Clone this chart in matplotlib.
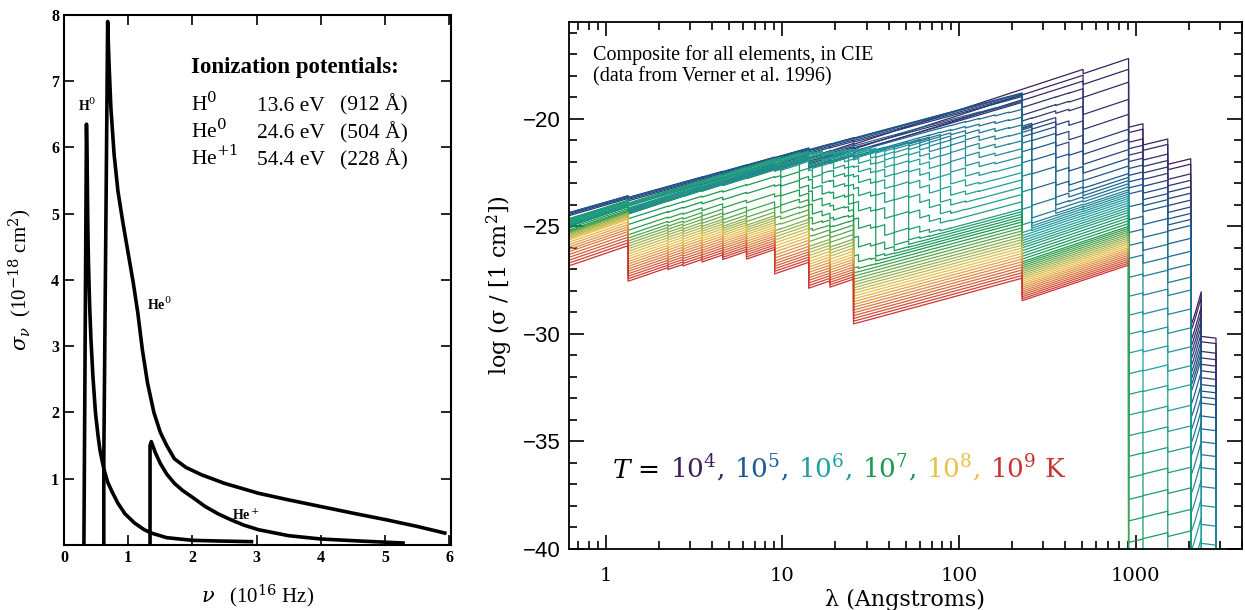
import numpy as np
import matplotlib
matplotlib.use("Agg")
import matplotlib.pyplot as plt
from matplotlib.colors import LinearSegmentedColormap

plt.rcParams["mathtext.fontset"] = "dejavuserif"

# ---------------- left panel: sigma_nu (1e-18 cm^2) vs nu (1e16 Hz)
h0_nu = [0.31, 0.35, 0.36, 0.37, 0.38, 0.40, 0.42, 0.45, 0.49, 0.53, 0.56, 0.62, 0.68, 0.75,
         0.84, 0.95, 1.1, 1.25, 1.36, 1.6, 2.0, 2.4, 2.92]
h0_sigma = [0.0, 6.35, 5.8, 4.9, 4.3, 3.6, 3.1, 2.55, 2.0, 1.65, 1.43, 1.15, 0.95, 0.8,
            0.63, 0.47, 0.33, 0.23, 0.18, 0.11, 0.07, 0.06, 0.05]
he0_nu = [0.62, 0.62, 0.68, 0.70, 0.73, 0.78, 0.84, 0.92, 1.0, 1.08, 1.15, 1.22, 1.3, 1.4,
          1.5, 1.6, 1.72, 1.9, 2.14, 2.5, 3.03, 3.5, 4.0, 4.5, 5.02, 5.5, 5.93]
he0_sigma = [0.0, 1.3, 7.9, 7.3, 6.6, 5.9, 5.34, 4.85, 4.4, 3.95, 3.5, 2.95, 2.45, 2.0,
             1.7, 1.5, 1.3, 1.17, 1.06, 0.93, 0.78, 0.68, 0.58, 0.48, 0.38, 0.28, 0.18]
hep_nu = [1.34, 1.34, 1.36, 1.42, 1.5, 1.6, 1.72, 1.85, 2.0, 2.2, 2.4, 2.6, 2.8, 3.03, 3.5,
          4.0, 4.6, 5.28]
hep_sigma = [0.0, 1.5, 1.56, 1.4, 1.23, 1.07, 0.93, 0.82, 0.72, 0.58, 0.47, 0.38, 0.3, 0.23,
             0.14, 0.09, 0.06, 0.03]

ion_rows = [("H$^0$", "13.6 eV", "(912 Å)"),
            ("He$^0$", "24.6 eV", "(504 Å)"),
            ("He$^{+1}$", "54.4 eV", "(228 Å)")]

# ---------------- right panel: composite log cross-section, CIE
log_T = np.round(np.arange(4.0, 9.01, 0.1), 1)
T_nodes = [4.0, 4.1, 4.2, 4.3, 4.5, 4.75, 5.0, 5.5, 6.0, 6.5, 7.0, 7.5, 8.0, 8.5, 9.0]

# hydrogen / helium edges: (edge A, log sigma at edge, slope)
h0_edge, h0_logsig, h0_slope = 912.0, -17.2, 2.75
he0_edge, he0_logsig, he0_slope = 504.0, -18.13, 2.6
hep_edge, hep_logsig, hep_slope = 228.0, -18.8, 2.2
frac_h0 = [0, -0.5, -1.1, -1.9, -3.3, -4.5, -5.4, -6.1, -6.6, -7.15, -7.8, -8.25, -8.7, -9.15, -9.6]
frac_he0 = [0, -0.05, -0.2, -0.5, -1.3, -3.0, -5.0, -7.0, -8.0, -9.0, -10.0, -10.5, -11.0, -11.5, -12.0]
frac_hep = [-4.0, -2.5, -1.5, -0.8, -0.2, 0.0, -0.05, -1.85, -3.7, -5.4, -6.0, -6.7, -7.35, -8.0, -8.65]

# metal K shells (H-like edge positions), Fe Ca Ar S Si Mg Ne O N C
k_edge = [1.34, 2.25, 2.74, 3.51, 4.6, 6.27, 9.05, 14.1, 18.6, 25.3]
k_logsig = [-24.35, -25.45, -25.15, -24.4, -23.95, -23.8, -23.1, -22.1, -22.85, -22.2]
k_slope = 2.8
k_T_nodes = [4.0, 6.0, 6.5, 7.0, 7.5, 8.0, 8.5, 9.0]
k_frac = [[0, 0, 0, 0, -0.05, -0.35, -0.9, -1.56],
          [0, 0, 0, -0.05, -0.4, -1.0, -1.6, -2.21],
          [0, 0, 0, -0.1, -0.6, -1.25, -1.85, -2.44],
          [0, 0, 0, -0.2, -0.9, -1.55, -2.15, -2.76],
          [0, 0, 0, -0.3, -1.0, -1.6, -2.2, -2.79],
          [0, 0, -0.05, -0.5, -1.1, -1.6, -2.1, -2.62],
          [0, 0, -0.2, -0.8, -1.5, -2.0, -2.5, -3.01],
          [0, -0.05, -0.4, -1.5, -2.6, -3.3, -4.0, -4.6],
          [0, -0.1, -0.6, -1.9, -3.0, -3.7, -4.35, -5.0],
          [0, -0.2, -1.0, -2.3, -3.4, -4.1, -4.7, -5.26]]

# intermediate ions (L shells / valence): edge, log sigma, peak log T
ion_edge = [9.8, 12.5, 14.8, 16.8, 19.5, 22.5, 23.7, 27.0, 31.6, 33.8, 38.0, 43.0, 51.9, 60.0,
            68.0, 78.5, 89.8, 108.8, 130.0, 160.0, 192.0, 258.0, 353.0, 419.0]
ion_logsig = [-22.3, -22.2, -22.1, -21.9, -22.0, -22.2, -22.1, -22.0, -21.8, -21.9, -21.9, -21.8,
              -21.6, -21.7, -21.6, -21.4, -21.3, -21.1, -21.0, -20.8, -20.6, -20.5, -20.2, -20.3]
ion_peak = [6.6, 6.5, 6.4, 6.3, 6.25, 6.2, 6.25, 6.1, 6.0, 6.05, 5.95, 5.9, 5.8, 5.7,
            5.65, 5.6, 5.5, 5.4, 5.3, 5.2, 5.0, 4.9, 4.6, 4.4]
ion_width = 0.42
ion_slope = 2.5

# neutral metals longward of the Lyman edge
n_edge = [1100.0, 1520.0, 2050.0, 2350.0, 2850.0, 4000.0]
n_logsig = [-20.28, -20.97, -21.86, -28.05, -30.2, -50.0]
n_slope = [2.0, 2.0, 2.0, 30.0, -1.0, 0.0]
frac_neutral = [0, -0.25, -0.7, -1.0, -1.6, -2.4, -3.1, -6.1, -10.5, -15.3, -20.3, -60, -80, -90, -100]

temp_colors = ["#3e1f5c", "#1d5b8e", "#22a0a0", "#1b9a50", "#e9c24a", "#cc3333"]
temp_labels = ["10$^4$, ", "10$^5$, ", "10$^6$, ", "10$^7$, ", "10$^8$, ", "10$^9$ K"]

fig = plt.figure(figsize=(12.45, 6.10), dpi=100)
serif = "Liberation Serif"

# ---------------- left panel
ax1 = fig.add_axes([0.0514, 0.1066, 0.311, 0.869])
for nu, sg in [(h0_nu, h0_sigma), (he0_nu, he0_sigma), (hep_nu, hep_sigma)]:
    ax1.plot(nu, sg, color="black", lw=2.6, solid_joinstyle="round")
ax1.set_xlim(0, 6.03)
ax1.set_ylim(0, 8)
ax1.set_xticks(range(0, 7))
ax1.set_yticks(range(1, 9))
ax1.tick_params(direction="in", top=True, right=True, length=7, width=1.2, labelsize=11.5)
for lab in ax1.get_xticklabels() + ax1.get_yticklabels():
    lab.set_fontfamily(serif)
    lab.set_fontweight("bold")
for sp in ax1.spines.values():
    sp.set_linewidth(1.5)
ax1.text(0.36, 6.55, "H$^0$", fontsize=10, fontweight="bold", family=serif, ha="center")
ax1.text(1.3, 3.55, "He$^0$", fontsize=10, fontweight="bold", family=serif)
ax1.text(2.62, 0.38, "He$^+$", fontsize=10, fontweight="bold", family=serif)
ax1.text(1.98, 7.12, "Ionization potentials:", fontsize=16.5, fontweight="bold", family=serif)
for i, (a, b, c) in enumerate(ion_rows):
    y = 6.55 - 0.41 * i
    ax1.text(1.98, y, a, fontsize=15.5, family=serif)
    ax1.text(3.0, y, b, fontsize=15.5, family=serif)
    ax1.text(4.3, y, c, fontsize=15.5, family=serif)
ax1.set_xlabel(r"$\nu$   (10$^{16}$ Hz)", fontsize=15, family=serif, labelpad=12)
ax1.set_ylabel(r"$\sigma_\nu$  (10$^{-18}$ cm$^2$)", fontsize=15, family=serif, labelpad=12)

# ---------------- right panel
ax2 = fig.add_axes([0.457, 0.1, 0.5406, 0.864])
cmap = LinearSegmentedColormap.from_list("temps", temp_colors)

edges = [h0_edge, he0_edge, hep_edge] + k_edge + ion_edge + n_edge
wl = np.logspace(np.log10(0.5), np.log10(5000), 4000)
wl = np.sort(np.concatenate([wl, np.array(edges) * (1 - 1e-7), np.array(edges) * (1 + 1e-7)]))
lw = np.log10(wl)


def add(total, edge, logsig, slope, frac):
    val = 10.0 ** (logsig + frac + slope * (lw - np.log10(edge)))
    return total + np.where(wl <= edge, val, 0.0)


for t in log_T:
    tot = np.zeros_like(wl)
    tot = add(tot, h0_edge, h0_logsig, h0_slope, np.interp(t, T_nodes, frac_h0))
    tot = add(tot, he0_edge, he0_logsig, he0_slope, np.interp(t, T_nodes, frac_he0))
    tot = add(tot, hep_edge, hep_logsig, hep_slope, np.interp(t, T_nodes, frac_hep))
    for e, s, fr in zip(k_edge, k_logsig, k_frac):
        tot = add(tot, e, s, k_slope, np.interp(t, k_T_nodes, fr))
    for e, s, pk in zip(ion_edge, ion_logsig, ion_peak):
        tot = add(tot, e, s, ion_slope, -((t - pk) / ion_width) ** 2)
    fn = np.interp(t, T_nodes, frac_neutral)
    for e, s, p in zip(n_edge, n_logsig, n_slope):
        tot = add(tot, e, s, p, fn)
    logsig = np.where(tot > 1e-58, np.log10(np.maximum(tot, 1e-300)), np.nan)
    ax2.plot(wl, np.maximum(logsig, -45), color=cmap((t - 4.0) / 5.0), lw=0.9)

ax2.set_xscale("log")
ax2.set_xlim(0.62, 4000)
ax2.set_ylim(-40, -15.5)
ax2.set_yticks([-40, -35, -30, -25, -20])
ax2.set_yticks(np.arange(-40, -15, 1), minor=True)
ax2.set_xticks([1, 10, 100, 1000])
ax2.set_xticklabels(["1", "10", "100", "1000"])
ax2.tick_params(which="both", direction="in", top=True, right=True, width=1.2)
ax2.tick_params(which="major", length=11)
ax2.tick_params(which="minor", length=6)
ax2.tick_params(axis="x", which="major", length=10)
ax2.tick_params(axis="x", labelsize=14, pad=13)
ax2.tick_params(axis="y", labelsize=16, pad=6)
for lab in ax2.get_xticklabels():
    lab.set_fontfamily("DejaVu Serif")
for lab in ax2.get_yticklabels():
    lab.set_fontfamily("Liberation Sans")
for sp in ax2.spines.values():
    sp.set_linewidth(1.3)
ax2.set_xlabel("λ (Angstroms)", fontsize=16, family="DejaVu Serif", labelpad=3)
ax2.set_ylabel("log (σ / [1 cm$^2$])", fontsize=16, family="DejaVu Serif", labelpad=6)
ax2.text(0.036, 0.957, "Composite for all elements, in CIE\n(data from Verner et al. 1996)",
         transform=ax2.transAxes, fontsize=14.5, family="Liberation Serif", va="top", linespacing=1.15)

# colored temperature legend
fig.canvas.draw()
x = 0.064
y = 0.135
parts = [("$T$ = ", "black")] + list(zip(temp_labels, temp_colors))
for s, c in parts:
    txt = ax2.text(x, y, s, transform=ax2.transAxes, fontsize=19, color=c,
                   family="DejaVu Serif", va="baseline")
    bb = txt.get_window_extent(renderer=fig.canvas.get_renderer())
    x += bb.width / ax2.bbox.width + 0.011

fig.savefig("out.png", dpi=100)
